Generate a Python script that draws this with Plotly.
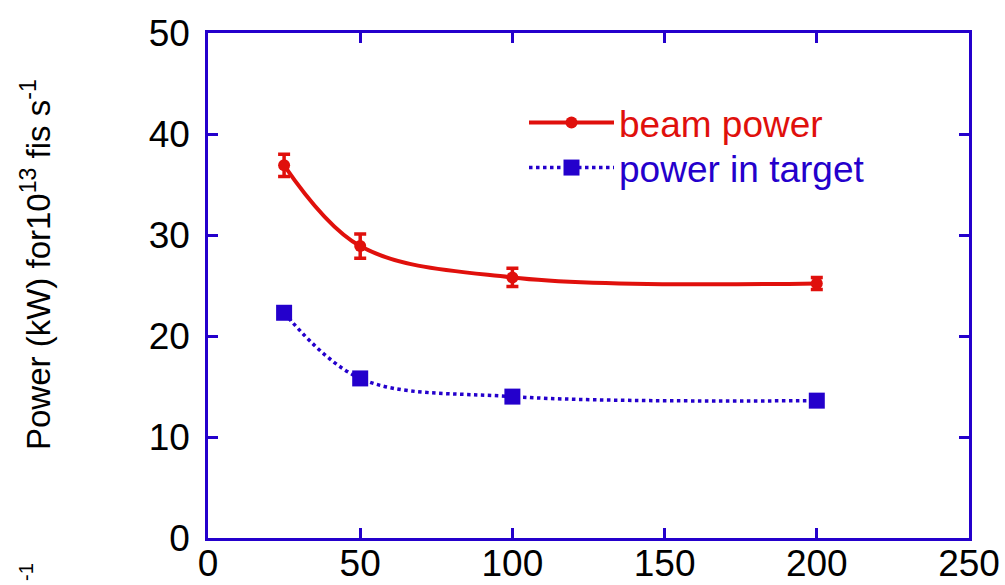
import plotly.graph_objects as go

energy = [25, 50, 100, 200]
beam_power = [36.9, 28.9, 25.8, 25.2]
beam_err = [1.1, 1.2, 0.9, 0.6]
target_power = [22.3, 15.8, 14.0, 13.6]

x_ticks = [0, 50, 100, 150, 200, 250]
y_ticks = [0, 10, 20, 30, 40, 50]

RED = "#E0100C"
BLUE = "#2400CC"
FONT = "Liberation Sans, Arial, sans-serif"

fig = go.Figure()
fig.add_trace(go.Scatter(
    x=energy, y=beam_power, mode="lines+markers",
    name=f"<span style='color:{RED}'>beam power</span>",
    line=dict(color=RED, width=4, shape="spline", smoothing=1.0),
    marker=dict(color=RED, size=12, symbol="circle"),
    error_y=dict(type="data", array=beam_err, color=RED, thickness=3.5, width=6),
    legend="legend",
))
fig.add_trace(go.Scatter(
    x=energy, y=target_power, mode="lines+markers",
    name=f"<span style='color:{BLUE}'>power in target</span>",
    line=dict(color=BLUE, width=3.5, shape="spline", smoothing=1.0, dash="dot"),
    marker=dict(color=BLUE, size=16, symbol="square"),
    legend="legend2",
))

axis_common = dict(
    showgrid=False, zeroline=False, showline=True, mirror="ticks",
    linecolor=BLUE, linewidth=2.5, ticks="inside", ticklen=10,
    tickwidth=2.5, tickcolor=BLUE, automargin=False,
    tickfont=dict(family=FONT, size=37, color="black"),
)
fig.update_xaxes(range=[0, 250], tickvals=x_ticks, ticklabelstandoff=-9, **axis_common)
fig.update_yaxes(range=[0, 50], tickvals=y_ticks, ticklabelstandoff=8, **axis_common)

fig.add_annotation(
    xref="paper", yref="paper", x=(36 - 208) / 761, y=(538 - 265) / 505,
    text="Power (kW) for10<sup>13</sup> fis s<sup>-1</sup>",
    textangle=-90, showarrow=False, xanchor="center", yanchor="middle",
    font=dict(family=FONT, size=33, color="black"),
)
fig.add_annotation(
    xref="paper", yref="paper", x=(26 - 208) / 761, y=(538 - 572) / 505,
    text="-1", textangle=-90, showarrow=False, xanchor="center", yanchor="middle",
    font=dict(family=FONT, size=20, color="black"),
)

legend_common = dict(
    xanchor="left", yanchor="middle",
    bgcolor="rgba(0,0,0,0)", borderwidth=0,
    font=dict(family=FONT, size=37, color="black"),
    itemwidth=85,
)

fig.update_layout(
    width=1005, height=585,
    margin=dict(l=208, r=36, t=33, b=47, autoexpand=False),
    paper_bgcolor="white", plot_bgcolor="white",
    showlegend=True,
    legend=dict(x=(524 - 208) / 761, y=(538 - 123) / 505, **legend_common),
    legend2=dict(x=(524 - 208) / 761, y=(538 - 168) / 505, **legend_common),
)

fig.write_html("out.html")
